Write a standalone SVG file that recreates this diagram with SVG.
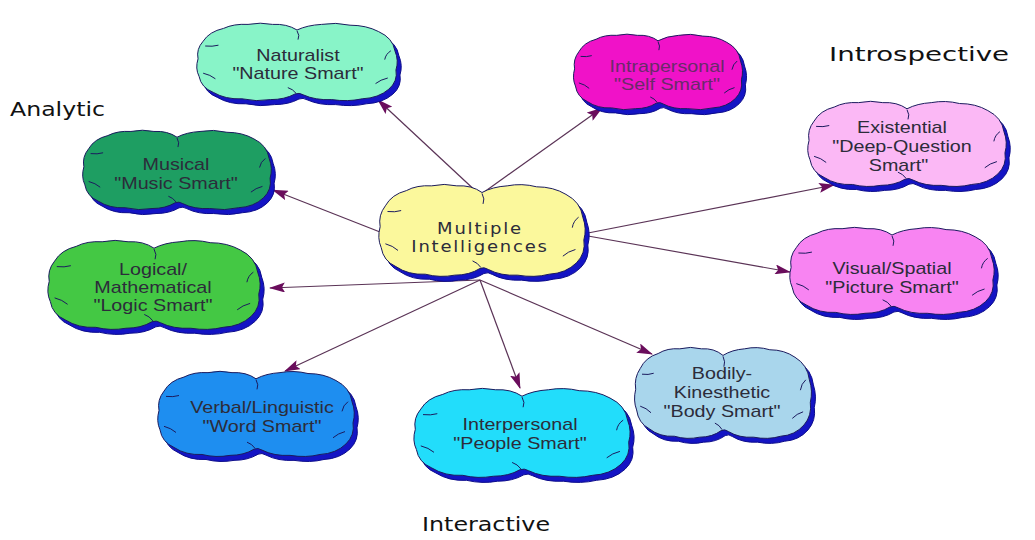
<svg xmlns="http://www.w3.org/2000/svg" xmlns:xlink="http://www.w3.org/1999/xlink" width="1035" height="540" viewBox="0 0 1035 540">
  <defs>
    <!-- two-lobed cloud outline in a 200x100 unit box -->
    <path id="cloud" d="M100,10 Q90,2 76,3 Q64,0 52,3 Q38,2 28,8 Q14,12 8,24 Q1,34 3,46 Q0,58 4,68 Q6,82 18,88 Q30,97 46,96 Q60,100 74,97 Q88,97 98,90 Q102,88 106,91 Q118,98 134,97 Q150,100 164,96 Q180,95 190,84 Q199,74 197,60 Q200,48 196,36 Q194,20 180,12 Q168,4 152,4 Q138,0 124,3 Q110,4 100,10 Z" vector-effect="non-scaling-stroke"/>
    <!-- short inner crease strokes -->
    <path id="creases" d="M10,30 Q17,31 23,29 M8,64 Q15,66 20,71 M192,36 Q187,40 186,47 M189,70 Q182,72 177,77 M100,11 Q103,17 101,22 M99,89 Q96,84 91,82" fill="none" vector-effect="non-scaling-stroke"/>
    <marker id="head" viewBox="0 0 16 10" markerWidth="16" markerHeight="10" refX="15" refY="5" orient="auto" markerUnits="userSpaceOnUse">
      <path d="M0,0 L16,5 L0,10 L3,5 Z" fill="#6a0d5c"/>
    </marker>
  </defs>
  <style>
    .shadow { fill: #1414c4; stroke: #0c0c8a; stroke-width: 1; }
    .body { stroke: #1b1b5e; stroke-width: 1; }
    .crease { stroke: #1b1b5e; stroke-width: 1; }
    .lbl { font-family: "Liberation Sans", Arial, sans-serif; font-size: 17px; fill: #2c2c3a; text-anchor: middle; }
    .hub { font-family: "DejaVu Sans", Verdana, sans-serif; font-size: 15px; fill: #2c2c3a; text-anchor: middle; letter-spacing: 1.5px; }
    .head { font-family: "DejaVu Sans", Verdana, sans-serif; font-size: 20px; fill: #111; }
    .link { stroke: #5a3356; stroke-width: 1.2; fill: none; marker-end: url(#head); }
  </style>

  <rect width="1035" height="540" fill="#ffffff"/>

  <!-- connectors -->
  <g id="connectors">
    <line class="link" x1="480" y1="195" x2="378" y2="100"/>
    <line class="link" x1="480" y1="195" x2="602" y2="108"/>
    <line class="link" x1="588" y1="233" x2="834" y2="185"/>
    <line class="link" x1="588" y1="236" x2="790" y2="272"/>
    <line class="link" x1="380" y1="232" x2="273" y2="190"/>
    <line class="link" x1="480" y1="280" x2="270" y2="288"/>
    <line class="link" x1="480" y1="280" x2="285" y2="371"/>
    <line class="link" x1="480" y1="280" x2="520" y2="388"/>
    <line class="link" x1="480" y1="280" x2="652" y2="354"/>
  </g>

  <!-- hub -->
  <g id="hub">
    <use href="#cloud" class="shadow" transform="translate(381 188) scale(1.05 0.95)"/>
    <use href="#cloud" class="body" fill="#fbf89c" transform="translate(377 183) scale(1.05 0.95)"/>
    <use href="#creases" class="crease" transform="translate(377 183) scale(1.05 0.95)"/>
    <text class="hub" transform="translate(480 0) scale(1.2 1)"><tspan x="0" y="234">Multiple</tspan><tspan x="0" y="252">Intelligences</tspan></text>
  </g>

  <g id="naturalist">
    <use href="#cloud" class="shadow" transform="translate(199 27) scale(1.02 0.8)"/>
    <use href="#cloud" class="body" fill="#88f4c8" transform="translate(195 22) scale(1.02 0.8)"/>
    <use href="#creases" class="crease" transform="translate(195 22) scale(1.02 0.8)"/>
    <text class="lbl" transform="translate(298 0) scale(1.16 1)"><tspan x="0" y="61">Naturalist</tspan><tspan x="0" y="79">"Nature Smart"</tspan></text>
  </g>

  <g id="intrapersonal">
    <use href="#cloud" class="shadow" transform="translate(576 38) scale(0.86 0.78)"/>
    <use href="#cloud" class="body" fill="#f012c8" transform="translate(572 33) scale(0.86 0.78)"/>
    <use href="#creases" class="crease" transform="translate(572 33) scale(0.86 0.78)"/>
    <text class="lbl" style="fill:#6a2a6a" transform="translate(667 0) scale(1.16 1)"><tspan x="0" y="72">Intrapersonal</tspan><tspan x="0" y="90">"Self Smart"</tspan></text>
  </g>

  <g id="existential">
    <use href="#cloud" class="shadow" transform="translate(810 105) scale(1.01 0.88)"/>
    <use href="#cloud" class="body" fill="#fbb8f5" transform="translate(806 100) scale(1.01 0.88)"/>
    <use href="#creases" class="crease" transform="translate(806 100) scale(1.01 0.88)"/>
    <text class="lbl" transform="translate(902 0) scale(1.16 1)"><tspan x="0" y="133">Existential</tspan><tspan x="0" y="152">"Deep-Question</tspan><tspan x="-3" y="171">Smart"</tspan></text>
  </g>

  <g id="musical">
    <use href="#cloud" class="shadow" transform="translate(85 134) scale(0.96 0.82)"/>
    <use href="#cloud" class="body" fill="#1e9e62" transform="translate(81 129) scale(0.96 0.82)"/>
    <use href="#creases" class="crease" transform="translate(81 129) scale(0.96 0.82)"/>
    <text class="lbl" transform="translate(176 0) scale(1.16 1)"><tspan x="0" y="170">Musical</tspan><tspan x="0" y="189">"Music Smart"</tspan></text>
  </g>

  <g id="logical">
    <use href="#cloud" class="shadow" transform="translate(50 244) scale(1.08 0.92)"/>
    <use href="#cloud" class="body" fill="#44c844" transform="translate(46 239) scale(1.08 0.92)"/>
    <use href="#creases" class="crease" transform="translate(46 239) scale(1.08 0.92)"/>
    <text class="lbl" transform="translate(153 0) scale(1.16 1)"><tspan x="0" y="275">Logical/</tspan><tspan x="0" y="293">Mathematical</tspan><tspan x="0" y="311">"Logic Smart"</tspan></text>
  </g>

  <g id="visual">
    <use href="#cloud" class="shadow" transform="translate(792 231) scale(1.04 0.9)"/>
    <use href="#cloud" class="body" fill="#f884f2" transform="translate(788 226) scale(1.04 0.9)"/>
    <use href="#creases" class="crease" transform="translate(788 226) scale(1.04 0.9)"/>
    <text class="lbl" transform="translate(892 0) scale(1.16 1)"><tspan x="0" y="274">Visual/Spatial</tspan><tspan x="0" y="293">"Picture Smart"</tspan></text>
  </g>

  <g id="verbal">
    <use href="#cloud" class="shadow" transform="translate(160 375) scale(1.0 0.88)"/>
    <use href="#cloud" class="body" fill="#1e8ef0" transform="translate(156 370) scale(1.0 0.88)"/>
    <use href="#creases" class="crease" transform="translate(156 370) scale(1.0 0.88)"/>
    <text class="lbl" transform="translate(262 0) scale(1.16 1)"><tspan x="0" y="413">Verbal/Linguistic</tspan><tspan x="0" y="432">"Word Smart"</tspan></text>
  </g>

  <g id="interpersonal">
    <use href="#cloud" class="shadow" transform="translate(416 392) scale(1.1 0.92)"/>
    <use href="#cloud" class="body" fill="#22ddfb" transform="translate(412 387) scale(1.1 0.92)"/>
    <use href="#creases" class="crease" transform="translate(412 387) scale(1.1 0.92)"/>
    <text class="lbl" transform="translate(520 0) scale(1.16 1)"><tspan x="0" y="430">Interpersonal</tspan><tspan x="0" y="449">"People Smart"</tspan></text>
  </g>

  <g id="bodily">
    <use href="#cloud" class="shadow" transform="translate(637 351) scale(0.9 0.94)"/>
    <use href="#cloud" class="body" fill="#a9d6ec" transform="translate(633 346) scale(0.9 0.94)"/>
    <use href="#creases" class="crease" transform="translate(633 346) scale(0.9 0.94)"/>
    <text class="lbl" transform="translate(722 0) scale(1.16 1)"><tspan x="0" y="379">Bodily-</tspan><tspan x="0" y="398">Kinesthetic</tspan><tspan x="0" y="417">"Body Smart"</tspan></text>
  </g>

  <!-- group headings -->
  <g id="headings">
    <text class="head" x="10" y="116" textLength="95" lengthAdjust="spacingAndGlyphs">Analytic</text>
    <text class="head" x="829" y="61" textLength="180" lengthAdjust="spacingAndGlyphs">Introspective</text>
    <text class="head" x="422" y="531" textLength="128" lengthAdjust="spacingAndGlyphs">Interactive</text>
  </g>
</svg>
